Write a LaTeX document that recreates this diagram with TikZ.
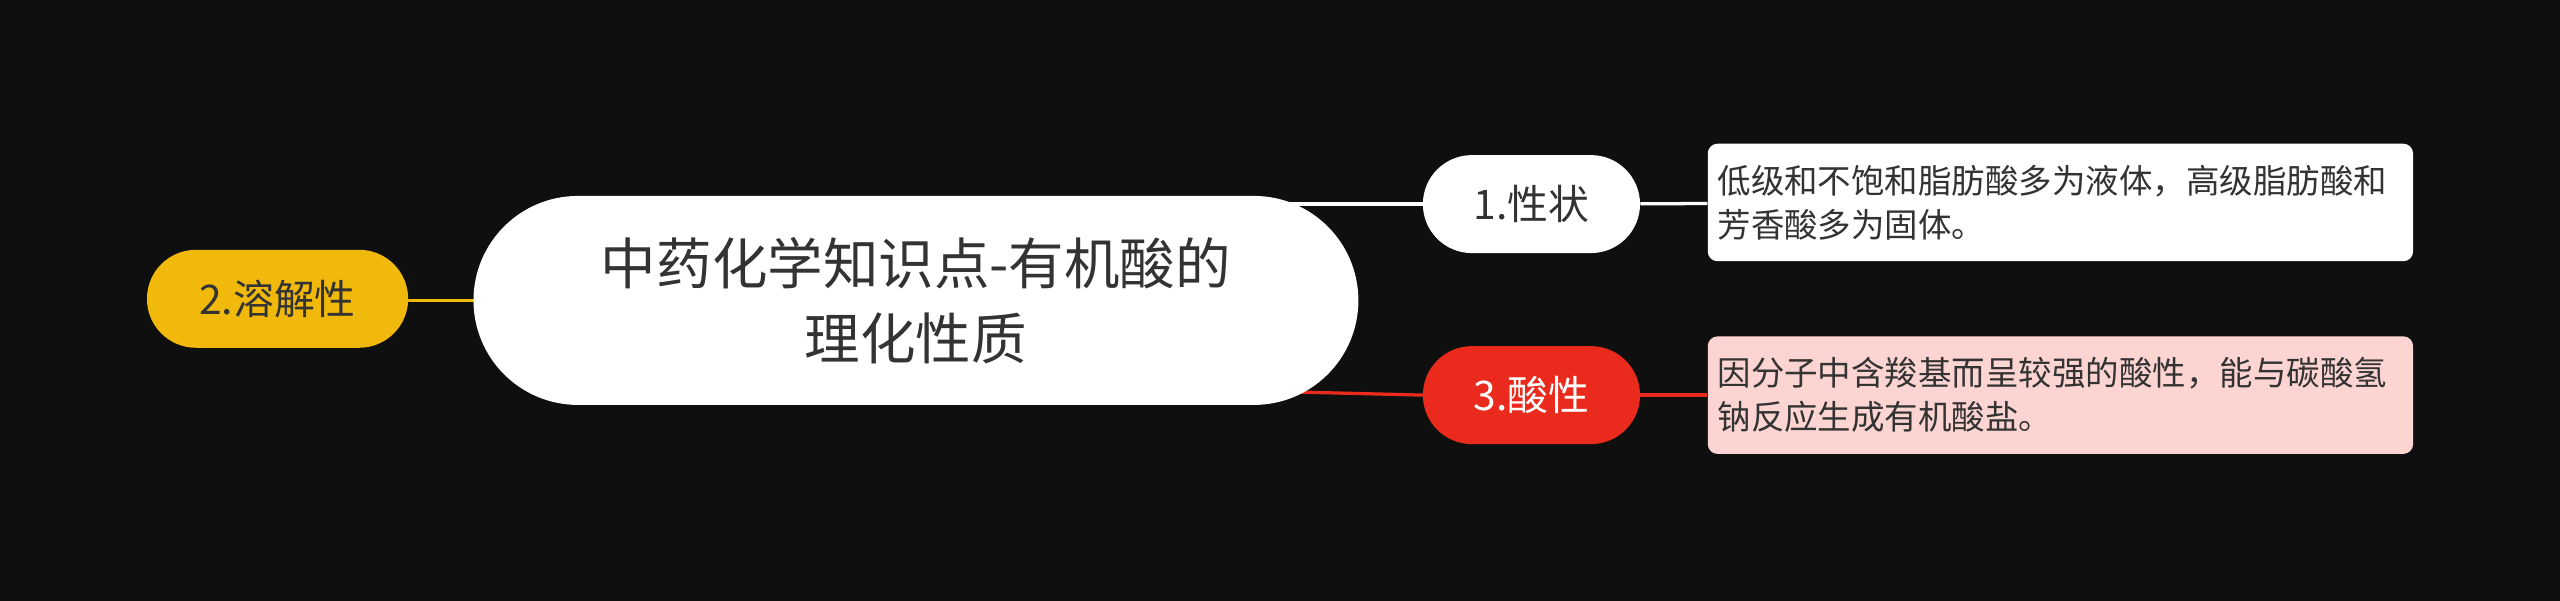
\documentclass[tikz,border=0pt]{standalone}
\usepackage{fontspec}
\setmainfont{Noto Sans CJK SC}
\usetikzlibrary{positioning}
\definecolor{bg}{HTML}{0F0F0F}
\definecolor{topicyellow}{HTML}{F0B90B}
\definecolor{topicred}{HTML}{EA2A1C}
\definecolor{notepink}{HTML}{FCD5D2}
\definecolor{textdark}{HTML}{333333}
\begin{document}
\begin{tikzpicture}[x=1pt,y=1pt]
\tikzstyle{topic}=[draw=none,rounded corners=30pt,minimum width=133pt,minimum height=60pt,font=\fontsize{25}{30}\selectfont,inner sep=0pt]
\tikzstyle{note}=[draw=none,rounded corners=6pt,minimum width=432pt,minimum height=72pt,text width=420pt,align=left,font=\fontsize{20.5}{27}\selectfont,text=textdark,inner sep=0pt]
\fill[bg] (0,0) rectangle (1568,-368);
\useasboundingbox (0,0) rectangle (1568,-368);

% connectors first, nodes cover their ends
\coordinate (c1) at (790,-125);
\coordinate (c3) at (790,-240);
\coordinate (c2) at (300,-184);
\draw[white,line width=2pt] (c1) -- (872,-125) coordinate (s1w);
\draw[topicred,line width=2pt] (c3) -- (872,-242) coordinate (s3w);
\draw[topicyellow,line width=2pt] (c2) -- (240,-184);

\path (561,-184) node[fill=white,rounded corners=64pt,minimum width=542pt,minimum height=128pt,align=center,font=\fontsize{34}{46}\selectfont,text=textdark] (center) {中药化学知识点-有机酸的\\理化性质};
\path (170,-183) node[topic,fill=topicyellow,minimum width=160pt,text=textdark] (dissolve) {2.溶解性};
\path (938,-125) node[topic,fill=white,text=textdark] (shape) {1.性状};
\path (938,-242) node[topic,fill=topicred,text=white] (acid) {3.酸性};
\path (1262,-124) node[note,fill=white] (shapenote) {低级和不饱和脂肪酸多为液体，高级脂肪酸和\\芳香酸多为固体。};
\path (1262,-242) node[note,fill=notepink] (acidnote) {因分子中含羧基而呈较强的酸性，能与碳酸氢\\钠反应生成有机酸盐。};

\draw[white,line width=2pt] (shape) -- (shapenote);
\draw[topicred,line width=2pt] (acid) -- (acidnote);
\end{tikzpicture}
\end{document}
